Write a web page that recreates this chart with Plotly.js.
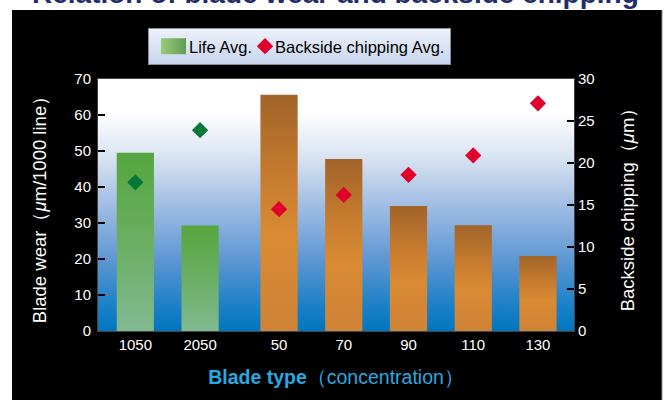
<!DOCTYPE html>
<html>
<head>
<meta charset="utf-8">
<script src="https://cdn.plot.ly/plotly-3.0.1.min.js"></script>
<style>
  html, body { margin: 0; padding: 0; background: #ffffff; }
  #chart { width: 668px; height: 400px; }
</style>
</head>
<body>
<div id="chart"></div>
<script>
// ---- data ----
const categories = ['1050', '2050', '50', '70', '90', '110', '130'];
const bondGroup  = [0, 0, 1, 1, 1, 1, 1];           // 0 = first blade family, 1 = second
const bladeWear  = [49.5, 29.3, 65.6, 47.8, 34.7, 29.4, 20.8];   // left axis
const chipping   = [17.7, 23.9, 14.5, 16.2, 18.6, 20.9, 27.1];   // right axis
const legendNames = ['Life Avg.', 'Backside chipping Avg.'];
const titleText = 'Relation of blade wear and backside chipping';

// ---- layout constants ----
const GROUP_GAP = 0.22;
const BAR_W = 0.575;
const FONT = '"Liberation Sans", Arial, Helvetica, sans-serif';
const L = 98, R = 94, T = 79, B = 69, W = 668, H = 400;
const pw = W - L - R, ph = H - T - B;
const px2x = p => (p - L) / pw;
const px2y = p => (H - B - p) / ph;

const xPos = categories.map((c, i) => i + (bondGroup[i] ? GROUP_GAP : 0));
function pick(arr, g) { return arr.filter((v, i) => bondGroup[i] === g); }

const traces = [
  { type: 'bar', x: pick(xPos, 0), y: pick(bladeWear, 0), width: BAR_W,
    name: legendNames[0], marker: { color: '#62a94f', line: { width: 0 } },
    showlegend: true, hoverinfo: 'y' },
  { type: 'bar', x: pick(xPos, 1), y: pick(bladeWear, 1), width: BAR_W,
    name: 'orange', marker: { color: '#cf8232', line: { width: 0 } },
    showlegend: false, hoverinfo: 'y' },
  { type: 'scatter', mode: 'markers', x: pick(xPos, 0), y: pick(chipping, 0), yaxis: 'y2',
    name: 'green', marker: { symbol: 'diamond', size: 12.5, color: '#08773a', line: { width: 0 } },
    showlegend: false },
  { type: 'scatter', mode: 'markers', x: pick(xPos, 1), y: pick(chipping, 1), yaxis: 'y2',
    name: legendNames[1], marker: { symbol: 'diamond', size: 12.5, color: '#e0002b', line: { width: 0 } },
    showlegend: true }
];

const layout = {
  width: W, height: H,
  margin: { l: L, r: R, t: T, b: B, pad: 0 },
  paper_bgcolor: '#000000',
  plot_bgcolor: '#8fb2de',
  barmode: 'overlay',
  font: { family: FONT, color: '#ffffff', size: 15 },
  showlegend: true,
  legend: {
    orientation: 'h', x: px2x(148), xanchor: 'left', y: px2y(28), yanchor: 'top',
    bgcolor: '#dae3f2', bordercolor: '#8a8f99', borderwidth: 1,
    font: { family: FONT, size: 16.5, color: '#000000' },
    traceorder: 'normal', itemclick: false
  },
  xaxis: {
    range: [xPos[0] - 0.577, xPos[xPos.length - 1] + 0.557],
    tickmode: 'array', tickvals: xPos, ticktext: categories,
    ticks: '', showgrid: false, zeroline: false,
    showline: true, linecolor: '#444444', linewidth: 1, mirror: true,
    tickfont: { family: FONT, size: 15, color: '#ffffff' },
    title: { text: '<b>Blade type</b>（concentration）', standoff: 18,
             font: { family: FONT, size: 19.5, color: '#29a9e1' } },
    fixedrange: true
  },
  yaxis: {
    range: [0, 70], dtick: 10, tick0: 0,
    ticks: 'inside', ticklen: 7, tickwidth: 2, tickcolor: '#000000',
    ticklabelstandoff: 3,
    showgrid: false, zeroline: false,
    showline: true, linecolor: '#444444', linewidth: 1,
    tickfont: { family: FONT, size: 15, color: '#ffffff' },
    title: { text: 'Blade wear（<i>μ</i>m/1000 line）', standoff: 22,
             font: { family: FONT, size: 18.5, color: '#ffffff' } },
    fixedrange: true
  },
  yaxis2: {
    overlaying: 'y', side: 'right',
    range: [0, 30], dtick: 5, tick0: 0,
    ticks: 'inside', ticklen: 7, tickwidth: 2, tickcolor: '#000000',
    showgrid: false, zeroline: false,
    showline: true, linecolor: '#444444', linewidth: 1,
    tickfont: { family: FONT, size: 15, color: '#ffffff' },
    title: { text: 'Backside chipping（<i>μ</i>m）', standoff: 27,
             font: { family: FONT, size: 18.5, color: '#ffffff' } },
    fixedrange: true
  },
  shapes: [
    { type: 'rect', xref: 'paper', yref: 'paper', layer: 'below',
      x0: px2x(-5), x1: px2x(12), y0: px2y(405), y1: px2y(-5),
      fillcolor: '#ffffff', line: { width: 0 } },
    { type: 'rect', xref: 'paper', yref: 'paper', layer: 'below',
      x0: px2x(-5), x1: px2x(673), y0: px2y(10), y1: px2y(-5),
      fillcolor: '#ffffff', line: { width: 0 } },
    { type: 'rect', xref: 'paper', yref: 'paper', layer: 'below',
      x0: px2x(662), x1: px2x(673), y0: px2y(405), y1: px2y(-5),
      fillcolor: '#ffffff', line: { width: 0 } },
    { type: 'line', xref: 'paper', yref: 'paper', layer: 'below',
      x0: px2x(662), x1: px2x(662), y0: px2y(400), y1: px2y(10),
      line: { color: '#8c8c8c', width: 1 } }
  ],
  annotations: [
    { text: '<b>' + titleText + '</b>', xref: 'paper', yref: 'paper',
      x: px2x(335), xanchor: 'center', y: px2y(11), yanchor: 'bottom',
      showarrow: false, font: { family: FONT, size: 28, color: '#1f2d6c' } }
  ]
};

function addGradient(defs, id, stops, horizontal) {
  const NS = 'http://www.w3.org/2000/svg';
  const g = document.createElementNS(NS, 'linearGradient');
  g.setAttribute('id', id);
  g.setAttribute('x1', '0'); g.setAttribute('y1', '0');
  g.setAttribute('x2', horizontal ? '1' : '0'); g.setAttribute('y2', horizontal ? '0' : '1');
  stops.forEach(s => {
    const st = document.createElementNS(NS, 'stop');
    st.setAttribute('offset', s[0]);
    st.setAttribute('stop-color', s[1]);
    g.appendChild(st);
  });
  defs.appendChild(g);
}

function shiftTranslate(el, dx) {
  const t = el.getAttribute('transform') || '';
  const m = t.match(/translate\(\s*([-\d.eE]+)[ ,]+([-\d.eE]+)\s*\)/);
  if (m) el.setAttribute('transform', t.replace(m[0], 'translate(' + (parseFloat(m[1]) + dx) + ',' + m[2] + ')'));
}

const gd = document.getElementById('chart');
Plotly.newPlot(gd, traces, layout, { displayModeBar: false, staticPlot: true }).then(() => {
  const NS = 'http://www.w3.org/2000/svg';
  const svg = gd.querySelector('svg.main-svg');
  let defs = svg.querySelector('defs');
  if (!defs) { defs = document.createElementNS(NS, 'defs'); svg.insertBefore(defs, svg.firstChild); }
  addGradient(defs, 'gPlotBg', [[0, '#ffffff'], [0.13, '#ffffff'], [0.3, '#dbe5f2'],
    [0.5, '#a0bde3'], [0.72, '#5d96d2'], [0.9, '#1c80c7'], [1, '#0076c0']], false);
  addGradient(defs, 'gGreen', [[0, '#56a53f'], [0.45, '#68ae5e'], [1, '#80b990']], false);
  addGradient(defs, 'gOrange', [[0, '#a1642a'], [0.35, '#c77b2e'], [0.6, '#d98a33'], [1, '#cf8336']], false);
  addGradient(defs, 'gLegend', [[0, '#eef2fa'], [1, '#c6d4ec']], false);
  addGradient(defs, 'gSwatch', [[0, '#9bcb7e'], [1, '#5e9d50']], true);

  gd.querySelectorAll('rect.bg').forEach(r => {
    if (r.closest('.legend')) {
      r.style.fill = 'url(#gLegend)';
      r.setAttribute('width', 302);
    } else r.style.fill = 'url(#gPlotBg)';
  });
  const barTraces = gd.querySelectorAll('.barlayer .trace');
  barTraces.forEach((t, k) => {
    t.querySelectorAll('.point path').forEach(p => {
      p.style.fill = k === 0 ? 'url(#gGreen)' : 'url(#gOrange)';
    });
  });
  const legItems = gd.querySelectorAll('.legend .traces');
  if (legItems.length) {
    const p = legItems[0].querySelector('.legendpoints path');
    if (p) { p.setAttribute('d', 'M17,8H-8V-8H17Z'); p.style.fill = 'url(#gSwatch)'; p.style.stroke = 'none'; }
  }
  if (legItems.length > 1) {
    shiftTranslate(legItems[1], -12);
    const tx = legItems[1].querySelector('text.legendtext');
    if (tx) tx.setAttribute('x', parseFloat(tx.getAttribute('x') || 40) - 10);
  }
  const clip = gd.querySelectorAll('clipPath[id*="legend"] rect');
  clip.forEach(c => c.setAttribute('width', 302));
});
</script>
</body>
</html>
